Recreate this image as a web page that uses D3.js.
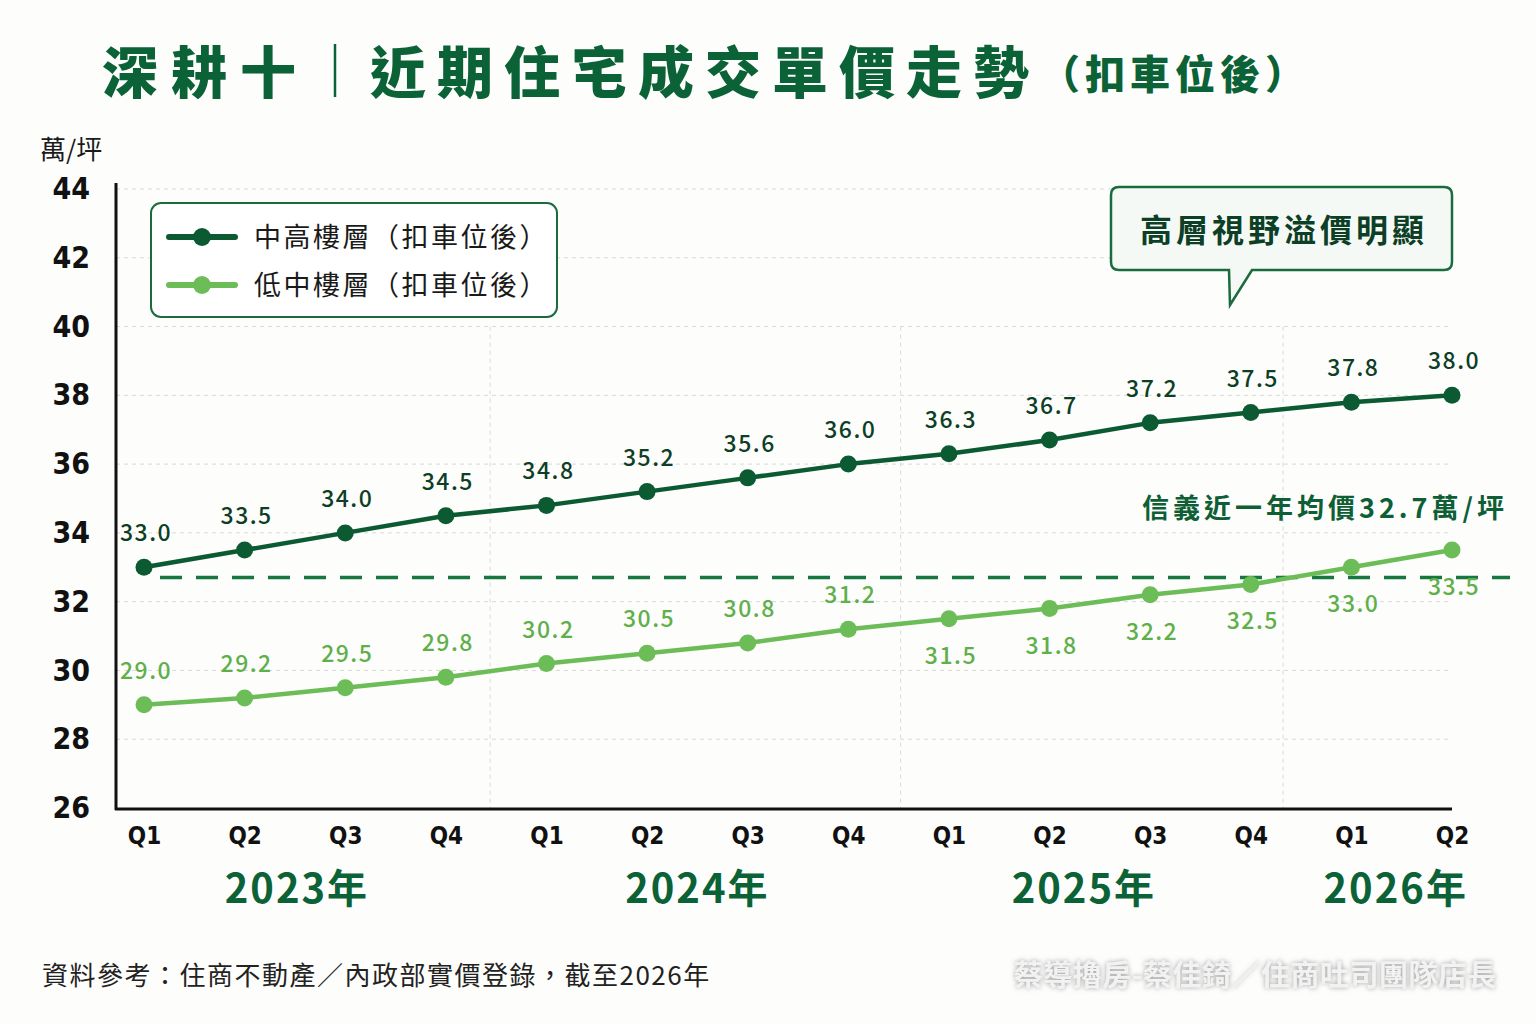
<!DOCTYPE html>
<html>
<head>
<meta charset="utf-8">
<script src="https://cdn.jsdelivr.net/npm/d3@7"></script>
<style>
  html, body { margin: 0; padding: 0; background: #fdfdfc; }
  svg { display: block; }
  text { font-family: "Noto Sans CJK TC", "Noto Sans", sans-serif; }
  .cond { font-family: "DejaVu Sans Condensed", "Liberation Sans Narrow", "Noto Sans CJK TC", sans-serif; }
</style>
</head>
<body>
<div id="chart"></div>
<script>
// data
var quarters = ["Q1", "Q2", "Q3", "Q4", "Q1", "Q2", "Q3", "Q4", "Q1", "Q2", "Q3", "Q4", "Q1", "Q2"];
var years = ["2023年", "2023年", "2023年", "2023年", "2024年", "2024年", "2024年", "2024年",
             "2025年", "2025年", "2025年", "2025年", "2026年", "2026年"];
var highFloor = [33.0, 33.5, 34.0, 34.5, 34.8, 35.2, 35.6, 36.0, 36.3, 36.7, 37.2, 37.5, 37.8, 38.0];
var lowFloor = [29.0, 29.2, 29.5, 29.8, 30.2, 30.5, 30.8, 31.2, 31.5, 31.8, 32.2, 32.5, 33.0, 33.5];
var seriesNames = ["中高樓層（扣車位後）", "低中樓層（扣車位後）"];
var yTicks = [26, 28, 30, 32, 34, 36, 38, 40, 42, 44];
var avgPrice = 32.7;

var W = 1536, H = 1024;
var dark = "#0b5a32", light = "#6cbd57", titleGreen = "#0c6237";

var svg = d3.select("#chart").append("svg")
  .attr("width", W)
  .attr("height", H);

var keys = d3.range(quarters.length);

var x = d3.scalePoint()
  .domain(keys)
  .range([144, 1452]);

var y = d3.scaleLinear()
  .domain([26, 44])
  .range([808, 189]);

// title
var title = svg.append("text")
  .attr("x", 102)
  .attr("y", 93)
  .attr("fill", titleGreen)
  .attr("font-weight", 900);
title.append("tspan")
  .attr("font-size", 56)
  .attr("letter-spacing", 13)
  .text("深耕十");
title.append("tspan")
  .attr("x", 370)
  .attr("font-size", 56)
  .attr("letter-spacing", 11)
  .text("近期住宅成交單價走勢");
title.append("tspan")
  .attr("x", 1040)
  .attr("font-size", 40)
  .attr("letter-spacing", 5)
  .attr("dy", -4)
  .text("（扣車位後）");
svg.append("line")
  .attr("x1", 335).attr("x2", 335)
  .attr("y1", 44).attr("y2", 97)
  .attr("stroke", titleGreen)
  .attr("stroke-width", 2.5);

// unit
svg.append("text")
  .attr("x", 40)
  .attr("y", 159)
  .attr("font-size", 26)
  .attr("fill", "#1a1a1a")
  .text("萬/坪");

// horizontal grid
svg.append("g")
  .selectAll("line")
  .data(yTicks.slice(1))
  .enter().append("line")
  .attr("x1", 116)
  .attr("x2", 1450)
  .attr("y1", function (d) { return y(d); })
  .attr("y2", function (d) { return y(d); })
  .attr("stroke", "#d9d9d9")
  .attr("stroke-width", 1)
  .attr("stroke-dasharray", "4,4");

// year dividers (after the last quarter of each year)
var dividers = [3, 7, 11];
var dividerShift = [-6, 2, -18];
svg.append("g")
  .selectAll("line")
  .data(dividers)
  .enter().append("line")
  .attr("x1", function (d, i) { return (x(d) + x(d + 1)) / 2 + dividerShift[i]; })
  .attr("x2", function (d, i) { return (x(d) + x(d + 1)) / 2 + dividerShift[i]; })
  .attr("y1", y(40))
  .attr("y2", y(26))
  .attr("stroke", "#d9d9d9")
  .attr("stroke-width", 1)
  .attr("stroke-dasharray", "4,4");

// y axis
var yAxis = svg.append("g")
  .attr("transform", "translate(116,0)")
  .call(d3.axisLeft(y).tickValues(yTicks).tickSize(0).tickPadding(26));
yAxis.select(".domain")
  .attr("stroke", "#111")
  .attr("stroke-width", 3)
  .attr("d", "M0," + (y(44) - 6) + "V" + (y(26) + 2));
yAxis.selectAll("text")
  .attr("class", "cond")
  .attr("font-size", 30)
  .attr("font-weight", 600)
  .attr("fill", "#111");

// x axis
var xAxis = svg.append("g")
  .attr("transform", "translate(0," + (y(26) + 1) + ")")
  .call(d3.axisBottom(x).tickSize(0).tickPadding(18).tickFormat(function (i) { return quarters[i]; }));
xAxis.select(".domain")
  .attr("stroke", "#111")
  .attr("stroke-width", 3)
  .attr("d", "M115,0H1452");
xAxis.selectAll("text")
  .attr("class", "cond")
  .attr("font-size", 24)
  .attr("font-weight", 600)
  .attr("fill", "#111");

// year labels
var yearGroups = d3.groups(keys, function (i) { return years[i]; });
var yearShift = { "2023年": 2, "2024年": 0, "2025年": -16, "2026年": -6 };
svg.append("g")
  .selectAll("text")
  .data(yearGroups)
  .enter().append("text")
  .attr("x", function (d) { return d3.mean(d[1], function (i) { return x(i); }) + yearShift[d[0]]; })
  .attr("y", 903)
  .attr("text-anchor", "middle")
  .attr("font-size", 40)
  .attr("font-weight", 700)
  .attr("letter-spacing", 2)
  .attr("fill", titleGreen)
  .text(function (d) { return d[0]; });

// average reference line
svg.append("line")
  .attr("x1", 160)
  .attr("x2", 1510)
  .attr("y1", y(avgPrice))
  .attr("y2", y(avgPrice))
  .attr("stroke", "#17773f")
  .attr("stroke-width", 3.5)
  .attr("stroke-dasharray", "22,14");
svg.append("text")
  .attr("x", 1508)
  .attr("y", 518)
  .attr("text-anchor", "end")
  .attr("font-size", 27)
  .attr("font-weight", 700)
  .attr("letter-spacing", 4)
  .attr("fill", "#0e5f36")
  .text("信義近一年均價" + avgPrice + "萬/坪");

var line = d3.line()
  .x(function (d, i) { return x(i); })
  .y(function (d) { return y(d); });

function drawSeries(values, color, labelColor, placeAbove) {
  var g = svg.append("g");
  g.append("path")
    .datum(values)
    .attr("d", line)
    .attr("fill", "none")
    .attr("stroke", color)
    .attr("stroke-width", 4.5)
    .attr("stroke-linejoin", "round");
  g.selectAll("circle")
    .data(values)
    .enter().append("circle")
    .attr("cx", function (d, i) { return x(i); })
    .attr("cy", function (d) { return y(d); })
    .attr("r", 8.5)
    .attr("fill", color);
  g.selectAll("text")
    .data(values)
    .enter().append("text")
    .attr("x", function (d, i) { return x(i) + 2; })
    .attr("y", function (d, i) { return y(d) + (placeAbove(i) ? -26 : 45); })
    .attr("text-anchor", "middle")
    .attr("font-size", 23)
    .attr("font-weight", 500)
    .attr("letter-spacing", 1.5)
    .attr("fill", labelColor)
    .text(function (d) { return d.toFixed(1); });
}

drawSeries(highFloor, dark, "#0d3f26", function () { return true; });
drawSeries(lowFloor, light, "#5fb04b", function (i) { return i < 8; });

// legend
var legend = svg.append("g");
legend.append("rect")
  .attr("x", 151).attr("y", 203)
  .attr("width", 406).attr("height", 114)
  .attr("rx", 10)
  .attr("fill", "#fff")
  .attr("stroke", "#1b6b3d")
  .attr("stroke-width", 2);
var legendColors = [dark, light];
var li = legend.selectAll(".item")
  .data(seriesNames)
  .enter().append("g")
  .attr("class", "item")
  .attr("transform", function (d, i) { return "translate(0," + (237 + i * 48) + ")"; });
li.append("line")
  .attr("x1", 169).attr("x2", 235)
  .attr("stroke", function (d, i) { return legendColors[i]; })
  .attr("stroke-width", 6)
  .attr("stroke-linecap", "round");
li.append("circle")
  .attr("cx", 202)
  .attr("r", 9)
  .attr("fill", function (d, i) { return legendColors[i]; });
li.append("text")
  .attr("x", 254)
  .attr("y", 10)
  .attr("font-size", 27)
  .attr("letter-spacing", 2.5)
  .attr("fill", "#1a1a1a")
  .text(function (d) { return d; });

// callout
var callout = svg.append("g");
callout.append("path")
  .attr("d", "M1119,187 H1444 Q1452,187 1452,195 V262 Q1452,270 1444,270 H1252 L1230,305 L1229,270 H1119 Q1111,270 1111,262 V195 Q1111,187 1119,187 Z")
  .attr("fill", "#f5f9f6")
  .attr("stroke", "#1b6b3d")
  .attr("stroke-width", 2.5);
callout.append("text")
  .attr("x", 1284)
  .attr("y", 242)
  .attr("text-anchor", "middle")
  .attr("font-size", 32)
  .attr("font-weight", 700)
  .attr("letter-spacing", 4)
  .attr("fill", "#0d3f26")
  .text("高層視野溢價明顯");

// footer
svg.append("text")
  .attr("x", 42)
  .attr("y", 985)
  .attr("font-size", 26)
  .attr("letter-spacing", 1.5)
  .attr("fill", "#222")
  .text("資料參考：住商不動產／內政部實價登錄，截至2026年");

var defs = svg.append("defs");
var f = defs.append("filter").attr("id", "glow").attr("x", "-10%").attr("y", "-30%").attr("width", "120%").attr("height", "160%");
f.append("feDropShadow").attr("dx", 0).attr("dy", 0).attr("stdDeviation", 2.5).attr("flood-color", "#8a8a8a").attr("flood-opacity", 0.85);

svg.append("text")
  .attr("x", 1497)
  .attr("y", 986)
  .attr("text-anchor", "end")
  .attr("font-size", 29)
  .attr("font-weight", 700)
  .attr("letter-spacing", 0.5)
  .attr("fill", "#f2f2f2")
  .attr("filter", "url(#glow)")
  .text("蔡導擼房-蔡佳錡／住商吐司團隊店長");
</script>
</body>
</html>
